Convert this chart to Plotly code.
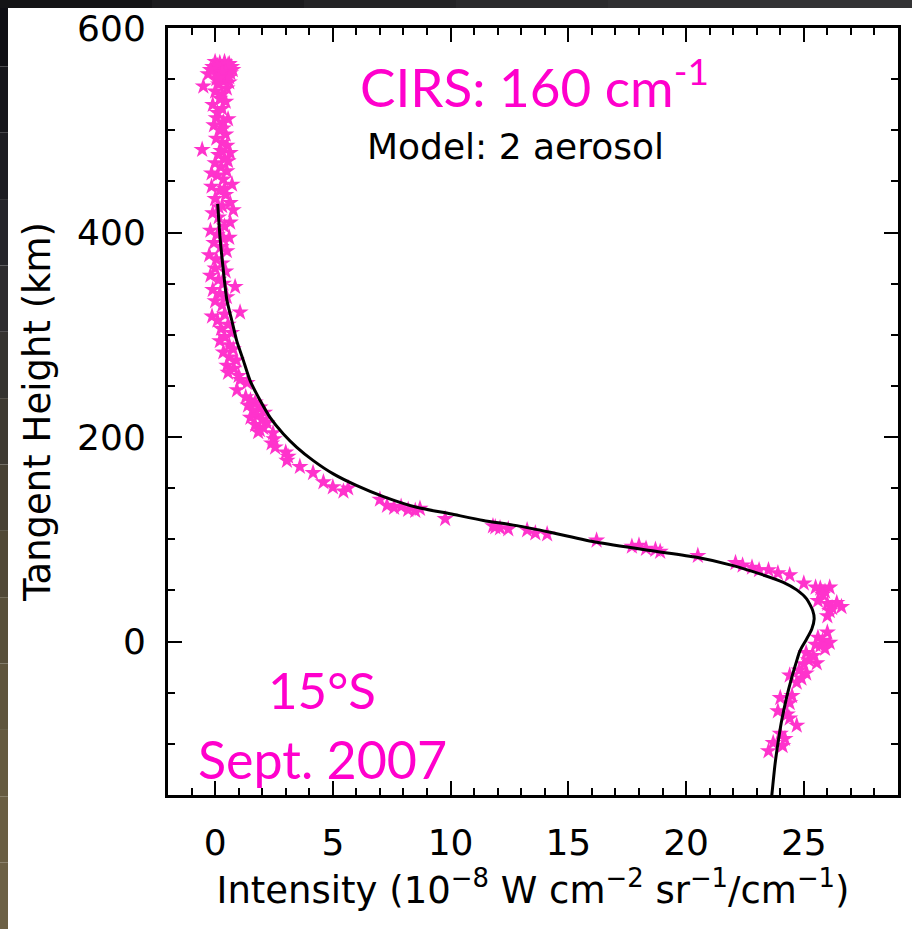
import plotly.graph_objects as go

# ---------------- data ----------------
obs_x = [0.0, 0.2, 0.4, 0.6, 0.7, -0.1, 0.3, 0.5, 0.1, -0.3, 0.65, 0.25, 0.45, 0.05, 0.35, 0.6, -0.5, 0.15, 0.5, 0.0, 0.3,
         0.55, 0.1, 0.75, -0.2, 0.45, 0.3, 0.6, 0.15,
         0.2, 0.45, -0.1, 0.3, 0.1, 0.55, 0.35, -0.05, 0.2, 0.45, 0.05, 0.3, 0.5, -0.55, 0.64, 0.15, 0.4, 0.0, 0.25, 0.5,
         0.1, 0.35, 0.72, -0.15, 0.2, 0.45, 0.0, 0.64, 0.3, 0.77, -0.1, 0.15, 0.64, 0.4, -0.2, 0.1, 0.35, -0.05, 0.25, 0.5,
         -0.25, 0.05, 0.3, 0.0, 0.45, -0.2, 0.15, 0.85, 0.35, -0.1, 0.2, 0.5, 0.0, 0.3, 1.06, -0.13, 0.4, 0.1, 0.55, 0.25,
         0.7, 0.4, 0.2, 0.6, 0.77, 0.35, 0.6, 0.9, 0.5, 0.8, 0.55, 1.06, 0.93, 1.36, 1.0,
         0.05, 0.35, 0.25, 0.55, -0.15, 0.4, 0.15, 0.6,
         1.3, 1.5, 1.7, 1.4, 1.9, 1.6, 2.1, 1.8, 1.5, 2.0, 2.2, 1.7, 2.05, 1.9, 1.83, 2.46, 2.5, 2.4, 2.55, 3.0, 3.1, 3.05,
         3.6, 4.16, 4.6, 5.0, 5.45, 5.65, 7.0, 7.3, 7.6, 7.9, 8.2, 8.5, 8.7, 9.77, 11.9, 11.8, 12.1, 12.45, 13.25, 13.6,
         14.1, 16.2, 17.7, 18.0, 18.3, 18.7, 18.9, 20.5, 22.1, 22.4, 22.8, 23.1, 23.5, 23.9, 24.4, 25.0, 25.5, 25.7, 25.9,
         26.1, 25.8, 25.6, 26.0, 26.2, 26.4, 26.6, 26.1, 26.0, 26.0, 25.6, 25.8, 26.1, 25.7, 25.9, 25.5, 25.1, 25.4, 25.2,
         25.55, 25.0, 24.8, 25.1, 24.9, 24.7, 24.4, 24.0, 24.5, 24.4, 23.9, 24.3, 24.4, 24.7, 24.0, 24.2, 24.1, 23.7, 23.5]
obs_y = [567, 566, 567, 565, 562, 562, 561, 560, 558, 555, 556, 554, 553, 550, 548, 547, 543, 545, 541, 538, 535,
         564, 563, 559, 559, 557, 557, 552, 551,
         531, 528, 525, 521, 517, 511, 508, 505, 500, 496, 492, 488, 485, 481, 478, 476, 472, 468, 464, 460,
         456, 452, 447, 445, 441, 437, 433, 429, 426, 422, 419, 415, 410, 406, 402, 398, 394, 390, 386, 382,
         378, 374, 370, 365, 362, 358, 354, 347, 350, 344, 340, 337, 333, 329, 322, 318, 320, 314, 310, 306,
         302, 298, 294, 290, 286, 283, 278, 275, 270, 267, 263, 256, 246, 253, 260,
         512, 502, 480, 470, 458, 443, 425, 395,
         239, 236, 234, 231, 229, 226, 224, 221, 219, 217, 214, 212, 209, 207, 205, 204, 198, 194, 190, 185, 181, 177,
         171, 165, 156, 151, 147, 150, 139, 133, 131, 132, 129, 128, 130, 120, 112, 113, 111, 110, 109, 106,
         105, 99, 93, 94, 91, 90, 88, 84, 77, 74.5, 72.5, 70, 70, 67, 65, 57, 53, 52, 49,
         53, 46, 40, 37, 33, 38, 34, 30, 25, 9, 4, 1, -1, -4, -7, -3, -11, -14, -18,
         -21, -22, -28, -31, -36, -40, -33, -55, -53, -60, -68, -71, -75, -82, -90, -95, -102, -99, -107]

model_x = [0.11, 0.21, 0.35, 0.5, 0.71, 0.92, 1.2, 1.49, 1.91, 2.34, 2.9, 3.47, 4.17, 5.02, 6.02, 7.15, 8.56,
           9.98, 11.39, 12.81, 14.23, 16.21, 18.47, 20.45, 22.0, 23.14, 24.13, 24.7, 25.12, 25.38, 25.44, 25.34,
           25.12, 24.91, 24.81, 24.7, 24.49, 24.27, 24.06, 23.92, 23.78, 23.64]
model_y = [428, 395, 363, 334, 314, 294, 275, 255, 236, 219, 203, 190, 177, 164, 152.5, 141.8, 131.3,
           125, 118.5, 113.4, 106.9, 97.1, 89, 82.4, 74.3, 66.2, 58, 50.6, 41.8, 30.3, 22.2, 12.4,
           2.6, -5.6, -10.5, -18.6, -34.9, -54.5, -77.2, -96.8, -119.6, -150.6]

x_tick_vals = [0, 5, 10, 15, 20, 25]
y_tick_vals = [0, 200, 400, 600]

# ---------------- figure ----------------
W, H = 912, 929
ML, MR, MT, MB = 168, 14, 28, 134
PW, PH = W - ML - MR, H - MT - MB

MAGENTA = "#FF00CC"
STAR = "#FF33CC"
TICKFONT = dict(family="DejaVu Sans", size=36, color="black")
TITLEFONT = dict(family="DejaVu Sans", size=37, color="black")

fig = go.Figure()
fig.add_trace(go.Scatter(x=obs_x, y=obs_y, mode="markers",
                         marker=dict(symbol="star", size=13, color=STAR, line=dict(width=0)),
                         showlegend=False, hoverinfo="skip"))
fig.add_trace(go.Scatter(x=model_x, y=model_y, mode="lines",
                         line=dict(color="black", width=3, shape="spline", smoothing=0.6),
                         showlegend=False, hoverinfo="skip"))

axis_common = dict(showline=True, linecolor="black", linewidth=3, mirror="allticks",
                   ticks="inside", ticklen=14, tickwidth=2, tickcolor="black",
                   showgrid=False, zeroline=False, tickfont=TICKFONT)

fig.update_xaxes(range=[-2, 29], tickvals=x_tick_vals, ticklabelstandoff=14,
                 minor=dict(dtick=1, ticklen=7, tickwidth=2, tickcolor="black", ticks="inside", showgrid=False),
                 title=dict(text="Intensity (10<sup>−8</sup> W cm<sup>−2</sup> sr<sup>−1</sup>/cm<sup>−1</sup>)",
                            font=TITLEFONT, standoff=8),
                 **axis_common)
fig.update_yaxes(range=[-150, 600], tickvals=y_tick_vals, ticklabelstandoff=12,
                 minor=dict(dtick=50, ticklen=7, tickwidth=2, tickcolor="black", ticks="inside", showgrid=False),
                 title=dict(text="Tangent Height (km)", font=TITLEFONT, standoff=16),
                 **axis_common)

annos = [
    dict(text="CIRS: 160 cm<sup>-1</sup>", x=13.55, y=546, font=dict(family="Lato", size=53, color=MAGENTA)),
    dict(text="Model: 2 aerosol", x=12.74, y=484, font=dict(family="DejaVu Sans", size=36, color="black")),
    dict(text="15°S", x=4.54, y=-47, font=dict(family="Lato", size=51, color=MAGENTA)),
    dict(text="Sept. 2007", x=4.54, y=-115, font=dict(family="Lato", size=52, color=MAGENTA)),
]
for a in annos:
    fig.add_annotation(xref="x", yref="y", showarrow=False, xanchor="center", yanchor="middle", **a)

# dark slide border (left and top strips)
def px_to_paper_x(px):
    return (px - ML) / PW

def px_to_paper_y(py):
    return 1 - (py - MT) / PH

left_cols = ["#0f0f14", "#16161b", "#1d1d22", "#25252a", "#2d2c2e", "#353330", "#3e3a32", "#474134",
             "#504836", "#584f3a", "#5f553d", "#655a40", "#6a5e43", "#6c6045"]
n = len(left_cols)
for i, c in enumerate(left_cols):
    y0 = H * i / n
    y1 = H * (i + 1) / n
    fig.add_shape(type="rect", xref="paper", yref="paper", layer="above",
                  x0=px_to_paper_x(0), x1=px_to_paper_x(8), y0=px_to_paper_y(y1), y1=px_to_paper_y(y0),
                  fillcolor=c, line=dict(width=0))
top_cols = ["#141416", "#1c1c1e", "#242426", "#2a2a2c", "#2f2f31", "#333335"]
m = len(top_cols)
for i, c in enumerate(top_cols):
    fig.add_shape(type="rect", xref="paper", yref="paper", layer="above",
                  x0=px_to_paper_x(W * i / m), x1=px_to_paper_x(W * (i + 1) / m),
                  y0=px_to_paper_y(8), y1=px_to_paper_y(0),
                  fillcolor=c, line=dict(width=0))

fig.update_layout(width=W, height=H, margin=dict(l=ML, r=MR, t=MT, b=MB, autoexpand=False),
                  paper_bgcolor="white", plot_bgcolor="white", showlegend=False)

fig.write_html("out.html")
